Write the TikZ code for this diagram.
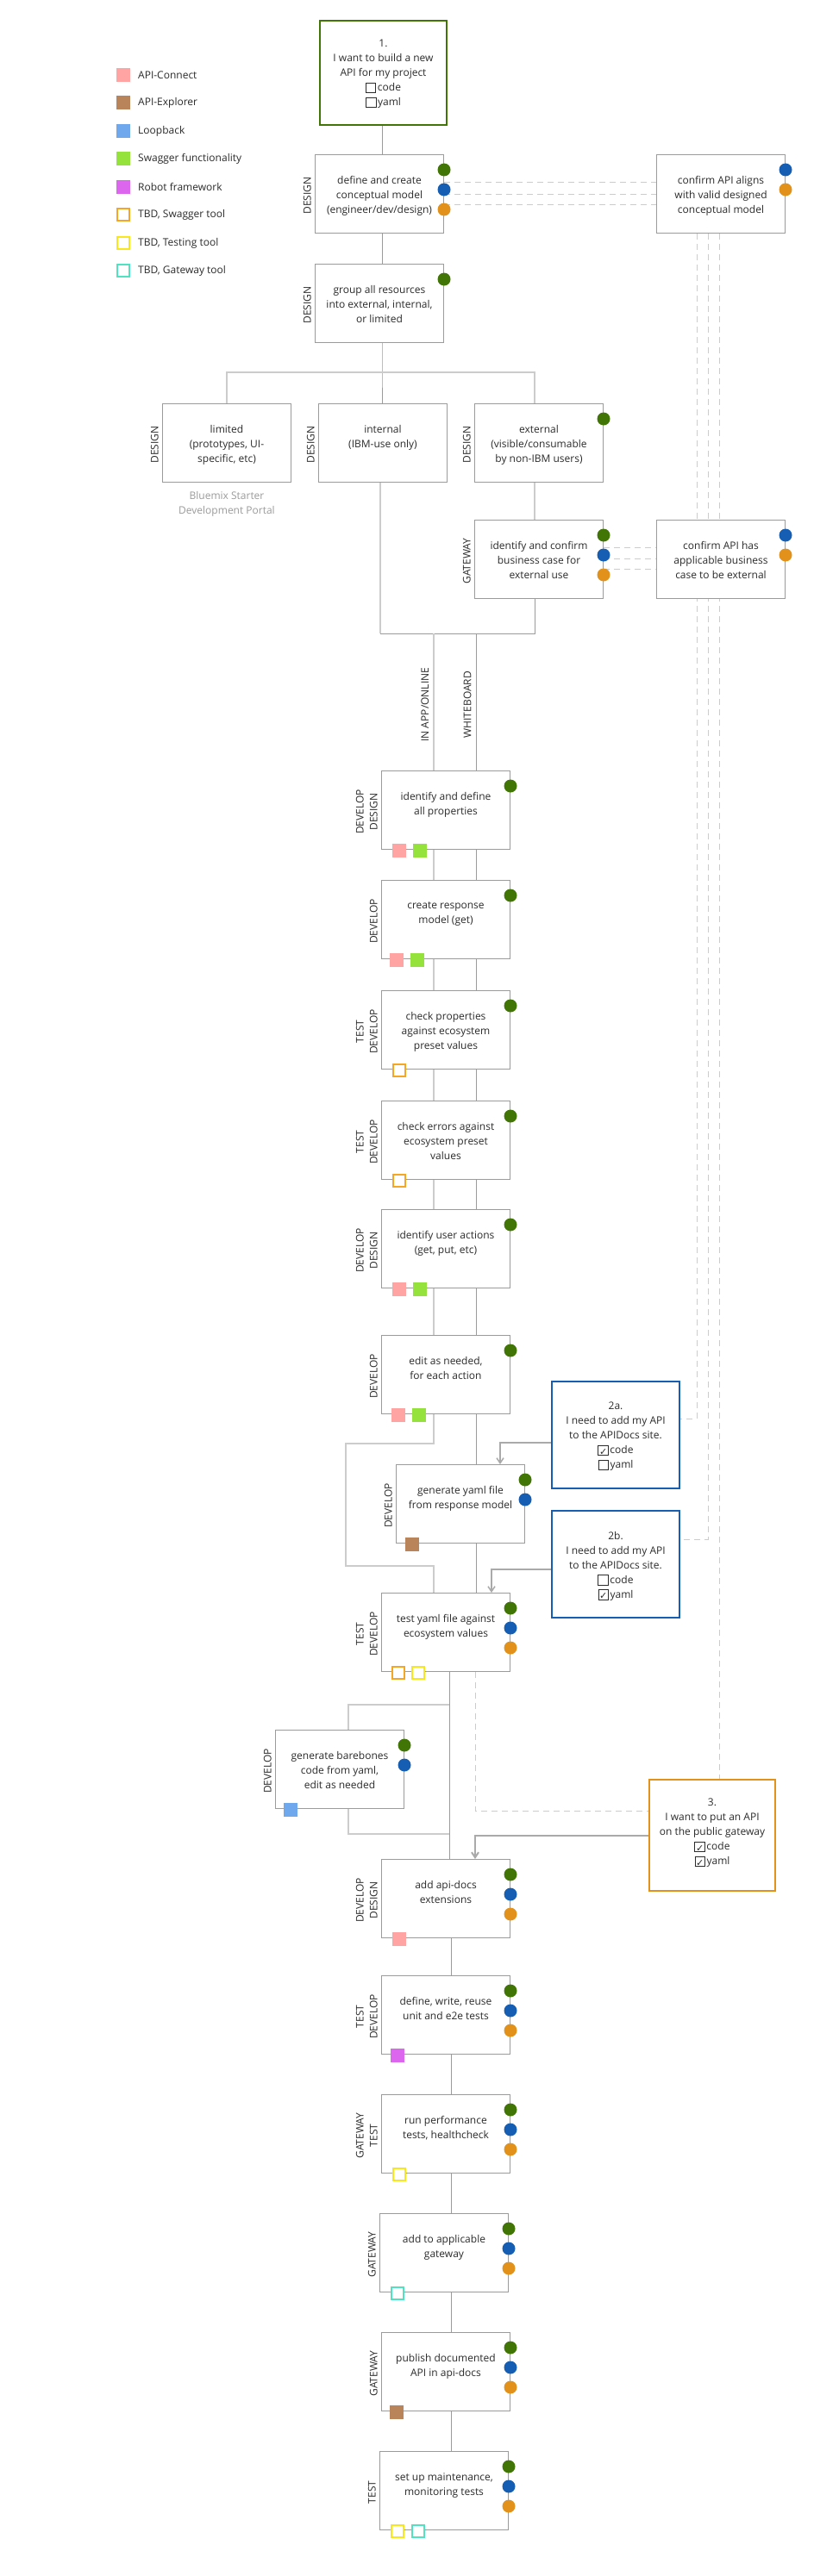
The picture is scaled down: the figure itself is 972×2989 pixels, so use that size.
\documentclass[tikz,border=0pt]{standalone}
\usepackage{fontspec}
\setmainfont{Open Sans}
\newfontfamily\djv{DejaVu Sans}
\usetikzlibrary{arrows.meta,calc}
\definecolor{dotg}{HTML}{417505}
\definecolor{dotb}{HTML}{155EB4}
\definecolor{doto}{HTML}{E2911A}
\definecolor{lpink}{HTML}{FFA3A3}
\definecolor{lbrown}{HTML}{B9845A}
\definecolor{lblue}{HTML}{6FA8EC}
\definecolor{lgreen}{HTML}{95E23C}
\definecolor{lmag}{HTML}{DD66EE}
\definecolor{torange}{HTML}{F5A623}
\definecolor{tyellow}{HTML}{F8E71C}
\definecolor{tteal}{HTML}{50E3C2}
\definecolor{bord}{HTML}{9B9B9B}
\definecolor{lite}{HTML}{CCCCCC}
\definecolor{arrc}{HTML}{AAAAAA}
\definecolor{txt}{HTML}{2B2B2B}
\setlength\fboxsep{0pt}
\setlength\fboxrule{1pt}
\newcommand\ckoff{\raisebox{-1.5pt}{\fbox{\rule{0pt}{10.5pt}\rule{10.5pt}{0pt}}}\hspace{1.5pt}}
\newcommand\ckon{\raisebox{-1.5pt}{\fbox{\rule{0pt}{10.5pt}\makebox[10.5pt]{\djv\fontsize{11}{11}\selectfont ✓}}}\hspace{1.5pt}}
\pgfdeclarelayer{bg}
\pgfsetlayers{bg,main}
\tikzset{
  bx/.style={draw=bord, line width=1pt, fill=white, minimum width=149pt, minimum height=91pt, inner sep=0pt, anchor=north west},
  btxt/.style={font=\fontsize{12}{17}\selectfont, text=txt, align=center, inner sep=0pt, anchor=north},
  vlab/.style={font=\fontsize{12}{16}\selectfont, text=txt, align=center, rotate=90, anchor=south, inner xsep=0pt, inner ysep=4pt},
  lnlab/.style={font=\fontsize{12}{16}\selectfont, text=txt, rotate=90, anchor=south, inner xsep=0pt, inner ysep=5pt},
  leg/.style={font=\fontsize{12}{14}\selectfont, text=txt, anchor=west, inner sep=0pt},
  dotn/.style={circle, inner sep=0pt, minimum size=15pt},
  fsq/.style={inner sep=0pt, minimum size=16pt},
  osq/.style={inner sep=0pt, minimum size=14pt, line width=2pt, fill=white},
  sqpink/.style={fsq, fill=lpink},
  sqbrown/.style={fsq, fill=lbrown},
  sqblue/.style={fsq, fill=lblue},
  sqgreen/.style={fsq, fill=lgreen},
  sqmag/.style={fsq, fill=lmag},
  sqor/.style={osq, draw=torange},
  sqyel/.style={osq, draw=tyellow},
  sqteal/.style={osq, draw=tteal},
  conn/.style={draw=bord, line width=1pt},
  connl/.style={draw=lite, line width=1.6pt},
  dsh/.style={draw=lite, line width=1pt, dash pattern=on 7pt off 5pt},
  arr/.style={draw=arrc, line width=1.5pt, -{Straight Barb[length=6pt,width=8pt]}},
  bigbox/.style={line width=2pt, fill=white, inner sep=0pt, anchor=north west}
}
\newcommand\mkboxl[5]{%
  \node[bx] (#1) at (#2,#3) {};
  \node[btxt] (#1-t) at ([yshift=-25pt]#1.north) {#4};
  \node[vlab] (#1-l) at ([yshift=-2pt]#1.west) {#5};}
\newcommand\mkboxn[4]{%
  \node[bx] (#1) at (#2,#3) {};
  \node[btxt] (#1-t) at ([yshift=-25pt]#1.north) {#4};}
\newcommand\mkdot[4]{\node[dotn, fill=#2] (#1-#4) at ([yshift=-#3pt]#1.north east) {};}
\newcommand\mksq[4]{\node[#2] (#1-#4) at ([xshift=#3pt, yshift=-1pt]#1.south west) {};}
\begin{document}
\begin{tikzpicture}[x=1pt,y=-1pt]
\begin{pgfonlayer}{bg}
\fill[white] (0,0) rectangle (972,2989);
\end{pgfonlayer}
\useasboundingbox (0,0) rectangle (972,2989);

% legend
\node[sqpink] (lg1) at (143,87) {};   \node[leg] (lt1) at (160,87) {API-Connect};
\node[sqbrown] (lg2) at (143,119) {}; \node[leg] (lt2) at (160,119) {API-Explorer};
\node[sqblue] (lg3) at (143,152) {};  \node[leg] (lt3) at (160,152) {Loopback};
\node[sqgreen] (lg4) at (143,184) {}; \node[leg] (lt4) at (160,184) {Swagger functionality};
\node[sqmag] (lg5) at (143,217) {};   \node[leg] (lt5) at (160,217) {Robot framework};
\node[sqor] (lg6) at (143,249) {};    \node[leg] (lt6) at (160,249) {TBD, Swagger tool};
\node[sqyel] (lg7) at (143,282) {};   \node[leg] (lt7) at (160,282) {TBD, Testing tool};
\node[sqteal] (lg8) at (143,314) {};  \node[leg] (lt8) at (160,314) {TBD, Gateway tool};

% start boxes
\node[bigbox, draw=dotg, minimum width=147pt, minimum height=121pt] (s1) at (370,23) {};
\node[btxt] (s1-t) at ([yshift=-23pt]s1.north) {1.\\I want to build a new\\API for my project\\\ckoff code\\\ckoff yaml};
\node[bigbox, draw=dotb, minimum width=148pt, minimum height=124pt] (c2a) at (639,1602) {};
\node[btxt] (c2a-t) at ([yshift=-25pt]c2a.north) {2a.\\I need to add my API\\to the APIDocs site.\\\ckon code\\\ckoff yaml};
\node[bigbox, draw=dotb, minimum width=148pt, minimum height=124pt] (c2b) at (639,1752) {};
\node[btxt] (c2b-t) at ([yshift=-25pt]c2b.north) {2b.\\I need to add my API\\to the APIDocs site.\\\ckoff code\\\ckon yaml};
\node[bigbox, draw=doto, minimum width=146pt, minimum height=129pt] (c3) at (752,2064) {};
\node[btxt] (c3-t) at ([yshift=-23pt]c3.north) {3.\\I want to put an API\\on the public gateway\\\ckon code\\\ckon yaml};

% design part
\mkboxl{def}{365}{179}{define and create\\conceptual model\\(engineer/dev/design)}{DESIGN}
\mkboxn{conf1}{761}{179}{confirm API aligns\\with valid designed\\conceptual model}
\mkboxl{grp}{365}{306}{group all resources\\into external, internal,\\or limited}{DESIGN}
\mkboxl{lim}{188}{468}{limited\\(prototypes, UI-\\specific, etc)}{DESIGN}
\mkboxl{int}{369}{468}{internal\\(IBM-use only)}{DESIGN}
\mkboxl{ext}{550}{468}{external\\(visible/consumable\\by non-IBM users)}{DESIGN}
\mkboxl{gw}{550}{603}{identify and confirm\\business case for\\external use}{GATEWAY}
\mkboxn{conf2}{761}{603}{confirm API has\\applicable business\\case to be external}
\node[btxt, text=bord] (bm) at ([yshift=-10pt]lim.south) {Bluemix Starter\\Development Portal};

% develop part
\mkboxl{props}{442}{894}{identify and define\\all properties}{DEVELOP\\DESIGN}
\mkboxl{resp}{442}{1021}{create response\\model (get)}{DEVELOP}
\mkboxl{chkp}{442}{1149}{check properties\\against ecosystem\\preset values}{TEST\\DEVELOP}
\mkboxl{chke}{442}{1277}{check errors against\\ecosystem preset\\values}{TEST\\DEVELOP}
\mkboxl{act}{442}{1403}{identify user actions\\(get, put, etc)}{DEVELOP\\DESIGN}
\mkboxl{edit}{442}{1549}{edit as needed,\\for each action}{DEVELOP}
\mkboxl{gen}{459}{1699}{generate yaml file\\from response model}{DEVELOP}
\mkboxl{tst}{442}{1848}{test yaml file against\\ecosystem values}{TEST\\DEVELOP}
\mkboxl{bare}{319}{2007}{generate barebones\\code from yaml,\\edit as needed}{DEVELOP}
\mkboxl{apid}{442}{2157}{add api-docs\\extensions}{DEVELOP\\DESIGN}
\mkboxl{unit}{442}{2292}{define, write, reuse\\unit and e2e tests}{TEST\\DEVELOP}
\mkboxl{perf}{442}{2430}{run performance\\tests, healthcheck}{GATEWAY\\TEST}
\mkboxl{agw}{440}{2568}{add to applicable\\gateway}{GATEWAY}
\mkboxl{pub}{442}{2706}{publish documented\\API in api-docs}{GATEWAY}
\mkboxl{mon}{440}{2844}{set up maintenance,\\monitoring tests}{TEST}

% dots
\mkdot{def}{dotg}{18}{g}\mkdot{def}{dotb}{41}{b}\mkdot{def}{doto}{64}{o}
\mkdot{conf1}{dotb}{18}{b}\mkdot{conf1}{doto}{41}{o}
\mkdot{grp}{dotg}{18}{g}
\mkdot{ext}{dotg}{18}{g}
\mkdot{gw}{dotg}{18}{g}\mkdot{gw}{dotb}{41}{b}\mkdot{gw}{doto}{64}{o}
\mkdot{conf2}{dotb}{18}{b}\mkdot{conf2}{doto}{41}{o}
\mkdot{props}{dotg}{18}{g}
\mkdot{resp}{dotg}{18}{g}
\mkdot{chkp}{dotg}{18}{g}
\mkdot{chke}{dotg}{18}{g}
\mkdot{act}{dotg}{18}{g}
\mkdot{edit}{dotg}{18}{g}
\mkdot{gen}{dotg}{18}{g}\mkdot{gen}{dotb}{41}{b}
\mkdot{tst}{dotg}{18}{g}\mkdot{tst}{dotb}{41}{b}\mkdot{tst}{doto}{64}{o}
\mkdot{bare}{dotg}{18}{g}\mkdot{bare}{dotb}{41}{b}
\foreach \n in {apid,unit,perf,agw,pub,mon}{\mkdot{\n}{dotg}{18}{g}\mkdot{\n}{dotb}{41}{b}\mkdot{\n}{doto}{64}{o}}

% tool squares
\mksq{props}{sqpink}{21}{s1}\mksq{props}{sqgreen}{45}{s2}
\mksq{resp}{sqpink}{18}{s1}\mksq{resp}{sqgreen}{42}{s2}
\mksq{chkp}{sqor}{21}{s1}
\mksq{chke}{sqor}{21}{s1}
\mksq{act}{sqpink}{21}{s1}\mksq{act}{sqgreen}{45}{s2}
\mksq{edit}{sqpink}{20}{s1}\mksq{edit}{sqgreen}{44}{s2}
\mksq{gen}{sqbrown}{19}{s1}
\mksq{tst}{sqor}{20}{s1}\mksq{tst}{sqyel}{43}{s2}
\mksq{bare}{sqblue}{18}{s1}
\mksq{apid}{sqpink}{21}{s1}
\mksq{unit}{sqmag}{19}{s1}
\mksq{perf}{sqyel}{21}{s1}
\mksq{agw}{sqteal}{21}{s1}
\mksq{pub}{sqbrown}{18}{s1}
\mksq{mon}{sqyel}{21}{s1}\mksq{mon}{sqteal}{45}{s2}

\begin{pgfonlayer}{bg}
% dashed validation links
\draw[dsh] ([yshift=-33pt]def.north east) -- ([yshift=-33pt]conf1.north west);
\draw[dsh] ([yshift=-46pt]def.north east) -- ([yshift=-46pt]conf1.north west);
\draw[dsh] ([yshift=-58pt]def.north east) -- ([yshift=-58pt]conf1.north west);
\draw[dsh] ([yshift=-32pt]gw.north east) -- ([yshift=-32pt]conf2.north west);
\draw[dsh] ([yshift=-45pt]gw.north east) -- ([yshift=-45pt]conf2.north west);
\draw[dsh] ([yshift=-57pt]gw.north east) -- ([yshift=-57pt]conf2.north west);
\coordinate (v1) at (808,0);
\coordinate (v2) at (821,0);
\coordinate (v3) at (834,0);
\draw[dsh] (conf1.south -| v1) |- ([yshift=-44pt]c2a.north east);
\draw[dsh] (conf1.south -| v2) |- ([yshift=-34pt]c2b.north east);
\draw[dsh] (conf1.south -| v3) -- (c3.north -| v3);
\coordinate (le) at (551,0);
\draw[dsh] (tst.south -| le) |- ([yshift=-37pt]c3.north west);

% top flow
\coordinate (cx) at (443,0);
\draw[conn] (s1.south -| cx) -- (def.north -| cx);
\draw[conn] (def.south -| cx) -- (grp.north -| cx);
\coordinate (sp) at (443,432);
\coordinate (xe) at (620,0);
\draw[conn] (grp.south -| cx) -- (sp) -- (int.north -| cx);
\draw[connl] (lim.north) -- (lim.north |- sp) -- (sp -| xe) -- (ext.north -| xe);
\coordinate (m1) at (441,735);
\coordinate (m2) at (620,735);
\draw[connl] (int.south -| m1) -- (m1);
\draw[connl] (ext.south -| xe) -- (gw.north -| xe);
\draw[conn] (gw.south -| xe) -- (m2) -- (m1);
\coordinate (la) at (503,735);
\coordinate (lb) at (552,735);
\draw[connl] (la) -- node[lnlab, pos=0.52] (lapp) {IN APP/ONLINE} (props.north -| la);
\draw[conn] (lb) -- node[lnlab, pos=0.52] (lwb) {WHITEBOARD} (props.north -| lb);
\foreach \a/\b in {props/resp, resp/chkp, chkp/chke, chke/act, act/edit}{
  \draw[connl] (\a.south -| la) -- (\b.north -| la);
  \draw[conn] (\a.south -| lb) -- (\b.north -| lb);
}
\coordinate (bp1) at (401,1675);
\coordinate (bp2) at (401,1817);
\draw[connl] (edit.south -| la) |- (bp1) -- (bp2) -| (tst.north -| la);
\draw[conn] (edit.south -| lb) -- (gen.north -| lb);
\draw[conn] (gen.south -| lb) -- (tst.north -| lb);

% entry arrows
\coordinate (ax1) at (580,0);
\coordinate (ax2) at (570,0);
\coordinate (ax3) at (551,0);
\draw[arr] ([yshift=-9pt]c2a.west) -| (gen.north -| ax1);
\draw[arr] ([yshift=-6pt]c2b.west) -| (tst.north -| ax2);
\draw[arr, line width=2pt] (c3.west) -| (apid.north -| ax3);

% lower flow
\coordinate (lc) at (521,0);
\draw[conn] (tst.south -| lc) -- (apid.north -| lc);
\coordinate (bb1) at (404,1978);
\coordinate (bb2) at (404,2128);
\draw[connl] (bb1 -| lc) -- (bb1) -- (bare.north -| bb1);
\draw[connl] (bare.south -| bb1) -- (bb2) -- (bb2 -| lc);
\coordinate (ld) at (523,0);
\foreach \a/\b in {apid/unit, unit/perf, perf/agw, agw/pub, pub/mon}{
  \draw[conn] (\a.south -| ld) -- (\b.north -| ld);
}
\end{pgfonlayer}
\end{tikzpicture}
\end{document}
